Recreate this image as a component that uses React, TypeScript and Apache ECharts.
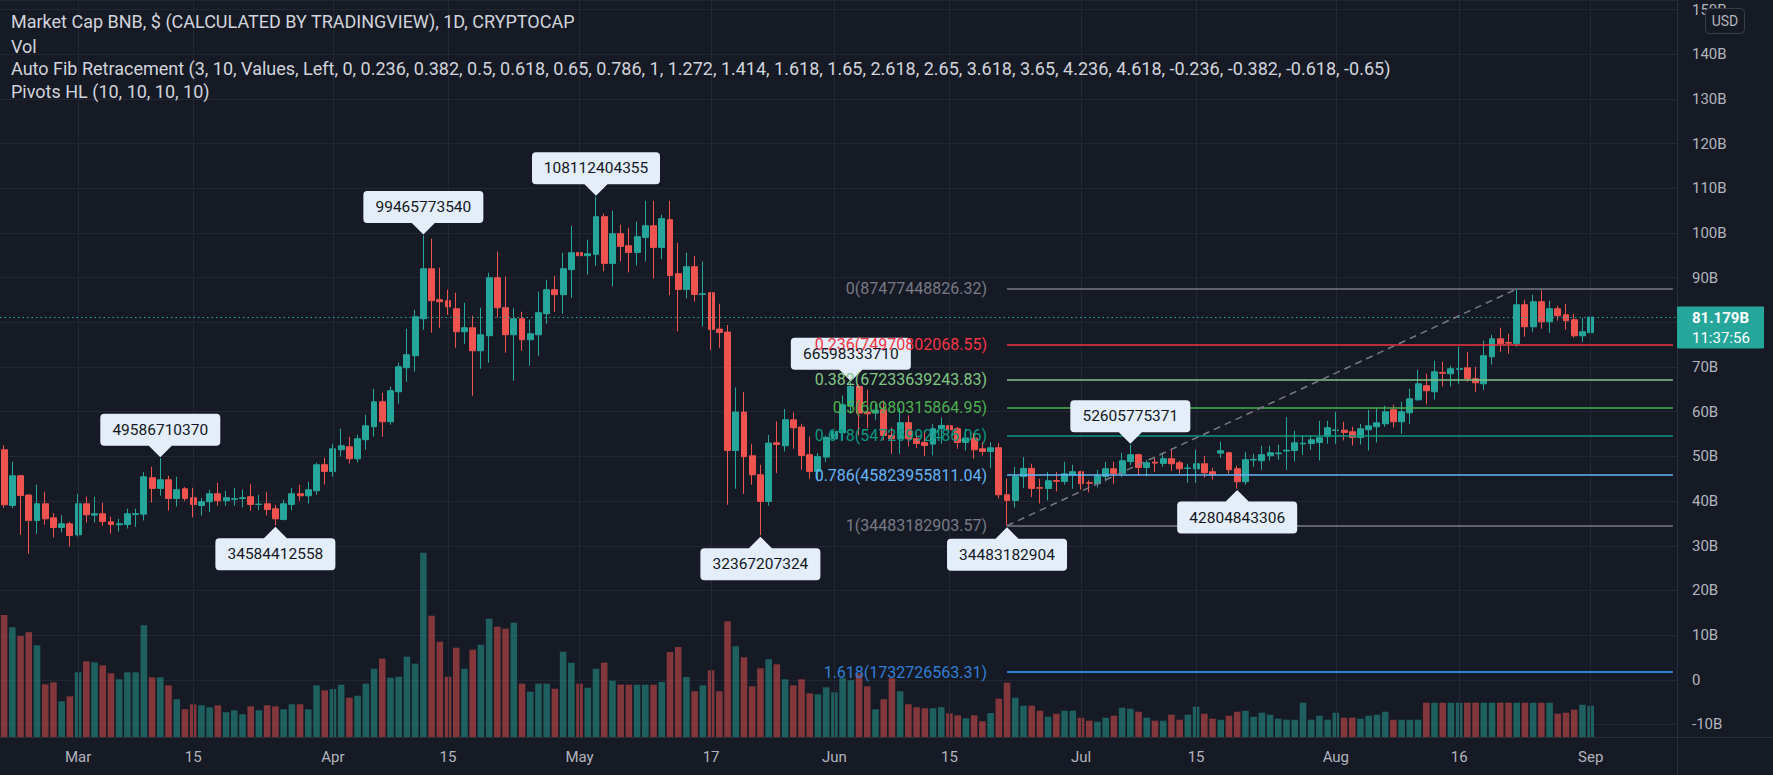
import React, { useEffect, useRef } from "react";
import * as echarts from "echarts";

const FONT = "Roboto, 'Noto Sans', sans-serif";
const BG = "#161a25";
const GRID = "#232733";
const TEXT = "#b2b5be";
const UP = "#26a69a";
const DOWN = "#ef5350";

// Daily categories: Feb 20 2021 .. Sep 11 2021 (candles end Sep 1, empty space after)
const FIRST_DAY = Date.UTC(2021, 1, 20);
const CATEGORY_DAYS = 204;
const categories: string[] = Array.from({ length: CATEGORY_DAYS }, (_, i) =>
  new Date(FIRST_DAY + i * 86400000).toISOString().slice(0, 10)
);

// OHLC in billions USD, Feb 20 .. Sep 1
const open = [
  51.49,
  39.02, 45.67, 41.34, 35.67, 39.4, 36.26, 34.1, 34.92,
  32.46, 39.4, 36.86, 37.16, 35.37, 34.7, 34.77, 37.0, 37.08, 45.22,
  42.83, 44.77, 40.59, 42.75, 40.74, 39.02, 39.85, 41.64, 40.07, 40.4,
  40.6, 40.97, 39.25, 39.4, 38.28, 35.89, 39.25, 41.64, 41.19, 42.31, 48.13,
  46.64, 51.49, 52.16, 49.47, 53.73, 56.64, 62.23, 57.76, 64.47, 69.85,
  72.53, 80.82, 92.01, 85.07, 84.85, 83.05, 77.9, 78.8, 73.65, 77.01,
  89.99, 83.28, 77.23, 80.82, 76.11, 77.23, 81.94, 87.31, 86.19, 91.79,
  95.59, 94.92, 95.22, 103.65, 93.2, 99.84, 97.16, 95.66, 99.02, 101.63,
  96.78, 102.98, 90.89, 87.38, 92.46, 86.26, 86.63, 78.5, 77.83, 51.33,
  59.92, 50.14, 45.89, 39.92, 53.05, 52.38, 58.2, 56.56, 50.37, 46.64, 49.84,
  53.95, 55.29, 61.41, 65.66, 59.92, 59.69, 60.44, 54.69, 53.95, 57.53,
  53.95, 53.13, 52.75, 56.19, 56.86, 56.19, 53.13, 54.1, 51.71, 51.11,
  51.94, 41.42, 40.15, 45.52, 47.31, 43.0, 42.83, 44.6, 44.4, 45.89,
  46.57, 44.1, 43.88, 45.52, 47.23, 46.12, 48.88, 50.37, 47.53, 48.7,
  48.43, 49.48, 48.58, 47.3, 47.23, 48.36, 46.57, 50.74, 50.82, 47.23,
  44.33, 49.2, 49.03, 50.15, 50.6, 51.2, 51.33, 52.8, 52.9, 53.12, 54.47,
  55.8, 55.88, 55.52, 54.24, 55.96, 56.63, 57.3, 60.44, 57.75, 59.77,
  62.68, 65.81, 64.47, 68.8, 68.5, 69.5, 69.84, 67.38, 66.26, 72.3,
  76.33, 75.5, 75.21, 83.94, 79.02, 84.62, 80.14, 83.05, 81.71, 80.59, 77.0,
  77.68,
];
const close = [
  39.17,
  45.67, 41.26, 35.67, 39.4, 36.04, 34.1, 34.92, 32.31,
  39.4, 36.93, 37.16, 35.44, 34.77, 34.92, 37.16, 37.16, 45.44, 42.83,
  44.77, 40.59, 42.53, 40.59, 39.25, 39.85, 41.64, 40.07, 40.74, 40.52,
  40.74, 39.25, 39.32, 38.13, 36.04, 39.4, 41.64, 41.19, 42.53, 48.13, 46.64,
  51.71, 52.38, 49.47, 53.95, 56.86, 62.23, 57.76, 64.7, 70.07, 72.76,
  81.26, 92.01, 84.85, 84.62, 83.5, 77.9, 78.8, 73.65, 77.23, 89.99,
  83.28, 77.23, 80.82, 76.11, 77.46, 82.16, 87.31, 86.19, 92.01, 95.59,
  94.92, 95.37, 103.65, 93.2, 99.84, 97.01, 95.66, 99.17, 101.63, 96.78,
  103.2, 90.51, 87.38, 92.46, 86.26, 86.4, 78.42, 77.75, 51.33, 59.92,
  49.92, 45.89, 39.92, 52.98, 52.68, 58.2, 56.41, 50.22, 46.64, 49.99, 54.24,
  55.59, 61.56, 65.66, 59.69, 59.54, 60.37, 54.69, 53.95, 57.53, 53.95,
  52.9, 52.46, 56.19, 56.93, 55.96, 53.13, 54.1, 51.48, 51.11, 51.93,
  41.42, 40.15, 45.52, 47.31, 42.83, 42.9, 44.55, 44.45, 46.12, 46.57,
  43.88, 44.0, 45.67, 47.23, 46.12, 49.03, 50.37, 47.53, 48.58, 48.5,
  49.48, 48.36, 47.23, 47.4, 48.36, 46.34, 45.89, 51.27, 47.01, 44.33,
  49.25, 49.35, 50.37, 50.82, 50.75, 51.4, 53.05, 52.95, 53.72, 54.17, 56.41,
  55.92, 55.36, 54.24, 56.18, 56.85, 57.53, 59.99, 57.75, 59.99, 62.9,
  66.26, 64.69, 68.94, 68.6, 69.62, 69.65, 67.38, 66.48, 72.53, 76.33,
  75.21, 75.35, 83.94, 79.02, 84.62, 80.14, 83.05, 81.48, 80.36, 77.0, 77.9,
  81.179,
];
const low = [
  38.5,
  38.4, 32.46, 28.2, 32.68, 34.7, 31.86, 32.98, 29.85,
  32.08, 35.22, 35.22, 34.47, 32.76, 33.2, 33.87, 34.25, 35.67, 39.7,
  41.19, 37.9, 38.8, 40.0, 36.34, 36.78, 37.53, 38.95, 38.95, 38.95,
  38.57, 37.83, 37.98, 36.78, 34.584, 35.67, 37.9, 40.07, 39.47, 41.41, 43.73,
  45.44, 50.0, 48.43, 48.65, 51.49, 54.4, 54.4, 57.09, 61.79, 66.71,
  68.95, 78.35, 77.68, 78.8, 81.71, 74.32, 75.22, 63.58, 69.62, 70.97,
  81.04, 73.21, 66.93, 73.65, 70.29, 72.53, 79.7, 82.38, 81.94, 85.52,
  92.01, 90.67, 92.68, 91.41, 88.05, 93.65, 91.19, 92.75, 93.65, 89.84,
  94.17, 86.04, 77.98, 85.37, 84.69, 79.1, 73.87, 74.25, 39.17, 42.75,
  41.63, 43.65, 32.367, 38.95, 46.26, 51.11, 51.71, 47.0, 44.99, 44.39, 48.72,
  53.5, 53.57, 59.54, 54.69, 56.34, 58.2, 53.57, 50.59, 50.59, 52.23,
  51.86, 50.14, 50.22, 52.83, 52.83, 51.71, 51.33, 49.47, 50.22, 47.38,
  40.6, 34.483, 38.58, 42.91, 40.89, 39.48, 40.15, 42.16, 43.66, 42.76,
  42.54, 41.94, 43.06, 44.4, 43.88, 45.44, 48.06, 45.89, 45.52, 46.57,
  47.69, 46.79, 46.12, 44.1, 44.1, 45.22, 44.78, 49.7, 46.12, 42.805,
  43.66, 47.69, 47.01, 49.03, 49.25, 47.01, 48.87, 50.37, 51.48, 49.09, 52.82,
  52.82, 53.57, 52.45, 52.68, 51.33, 53.12, 56.63, 56.48, 55.06, 57.3,
  62.45, 61.63, 62.68, 65.66, 65.66, 66.26, 66.71, 64.47, 64.91, 70.51,
  73.42, 72.97, 74.54, 76.78, 77.9, 78.57, 77.68, 80.36, 78.35, 76.56, 75.66,
  76.11,
];
const high = [
  52.5,
  48.8, 45.9, 41.56, 43.65, 42.08, 37.31, 36.86, 35.37,
  41.64, 40.97, 40.97, 39.62, 36.49, 36.04, 38.28, 38.28, 46.49, 47.68,
  49.587, 45.67, 45.44, 43.13, 42.98, 40.74, 42.53, 44.1, 42.31, 42.98,
  42.53, 43.87, 41.41, 42.08, 39.17, 40.3, 42.98, 43.65, 44.32, 48.58, 49.7,
  52.83, 56.19, 54.4, 54.85, 59.32, 65.14, 64.25, 65.59, 70.97, 78.58,
  82.83, 99.466, 98.73, 92.23, 87.31, 86.64, 84.4, 81.49, 83.28, 91.11,
  95.82, 90.22, 83.28, 82.38, 80.59, 86.86, 89.55, 90.45, 95.59, 101.6,
  99.17, 98.5, 108.112, 104.32, 104.99, 101.86, 101.19, 102.53, 107.23, 107.23,
  104.1, 107.23, 97.83, 95.59, 94.8, 93.65, 86.8, 84.17, 79.4, 65.44,
  64.39, 52.75, 48.13, 54.84, 57.83, 60.59, 59.84, 57.31, 54.47, 50.74, 54.69,
  56.71, 63.65, 66.598, 66.11, 64.92, 61.78, 62.53, 56.49, 60.81, 59.17,
  55.59, 55.59, 57.23, 58.72, 59.1, 56.56, 56.19, 55.22, 53.13, 53.13,
  52.98, 45.0, 47.68, 49.85, 48.36, 45.0, 46.49, 46.49, 48.8, 48.13,
  46.79, 44.63, 47.01, 48.8, 48.8, 50.82, 52.606, 50.6, 49.25, 49.7,
  50.82, 51.71, 49.03, 48.36, 51.49, 50.15, 47.46, 53.28, 51.04, 47.91,
  51.04, 50.6, 52.39, 52.39, 52.61, 58.8, 55.74, 54.69, 54.69, 57.97, 57.97,
  59.99, 57.75, 56.63, 57.3, 60.44, 60.96, 61.33, 61.56, 62.23, 65.14,
  69.39, 68.5, 71.41, 71.18, 70.29, 74.54, 73.42, 70.06, 75.88, 77.23,
  78.8, 77.45, 87.477, 85.06, 86.18, 87.2, 84.84, 83.72, 84.17, 81.93, 81.03,
  81.3,
];
// Volume (relative units as drawn in the pane)
const volume = [
  122,
  109.7, 101, 104.7, 91.7, 52.7, 54.7, 35.7, 40.7,
  64.7, 75.7, 74.7, 71.7, 63.7, 57.7, 64.7, 64.7, 111.7, 59.7,
  59.7, 51.7, 37.7, 27.7, 32.7, 31.7, 29.7, 31.7, 24.7, 26.7,
  22.7, 30.7, 26.7, 31.7, 30.7, 27.7, 32.7, 32.7, 27.7, 51.7, 46.7,
  48, 52.3, 39.3, 41.3, 53.3, 68.3, 78.3, 59.3, 60.3, 80.3,
  73.3, 184.3, 121.3, 95.3, 60.3, 89.3, 68.3, 87.3, 92.3, 118.3,
  110.3, 108.3, 114.3, 53.3, 45.3, 53.3, 53.3, 48.3, 85.3, 74.3,
  53.3, 49.3, 68.3, 74.3, 56.3, 52.3, 52.3, 52.3, 52.3, 52.3,
  55, 85, 90, 60, 45.7, 51.7, 66.7, 45.7, 115.7, 90.7,
  79.7, 50.7, 68.7, 77.7, 72.7, 57.7, 51.7, 57.7, 43.7, 42.7, 49.7,
  44.7, 58.7, 56.7, 63.7, 50.7, 27.7, 37.7, 58.7, 45.7, 32.7,
  29.7, 28.7, 28.7, 29.7, 23.7, 21.7, 18.7, 21.7, 15.7, 24,
  38.3, 54.3, 39.3, 31.3, 31.3, 26.3, 20.3, 23.3, 26.3, 26.3,
  19.3, 16.3, 15.3, 19.3, 21.3, 29.3, 28.3, 25.3, 19.3, 16.3,
  16.3, 22.3, 17.3, 22.3, 30.3, 23.3, 18.3, 17.3, 21.3, 25.3,
  26.3, 20.3, 24.3, 22.3, 18.3, 17.3, 17.3, 34.3, 17.3, 21.3, 17.3,
  24.3, 19.3, 19.3, 18.3, 21.3, 22.3, 25.3, 17.3, 17.3, 17.3,
  17.3, 34.3, 34.3, 34.3, 34.3, 34.3, 34.3, 34.3, 34.3, 34.3,
  34.3, 34.3, 34.3, 34.3, 34.3, 34.3, 34.3, 23.3, 24.3, 27.3, 32.3,
  31.3,
];

const tickDates = [
  "2021-03-01", "2021-03-15", "2021-04-01", "2021-04-15", "2021-05-01", "2021-05-17",
  "2021-06-01", "2021-06-15", "2021-07-01", "2021-07-15", "2021-08-01", "2021-08-16", "2021-09-01",
];
const tickLabels = ["Mar", "15", "Apr", "15", "May", "17", "Jun", "15", "Jul", "15", "Aug", "16", "Sep"];

const fibLevels = [0, 0.236, 0.382, 0.5, 0.618, 0.786, 1, 1.618];
const fibValues = [
  87477448826.32, 74970802068.55, 67233639243.83, 60980315864.95,
  54726992486.06, 45823955811.04, 34483182903.57, 1732726563.31,
];
const fibColors = ["#787b86", "#f23645", "#81c784", "#4caf50", "#089981", "#64b5f6", "#787b86", "#2f7fd6"];
const fibStartDate = "2021-06-22";
const fibEndDate = "2021-09-11";
const trendDates = ["2021-06-22", "2021-08-23"];
const trendValues = [34483182903.57, 87477448826.32];

const pivotHighDates = ["2021-03-11", "2021-04-12", "2021-05-03", "2021-06-03", "2021-07-07"];
const pivotHighValues = [49586710370, 99465773540, 108112404355, 66598333710, 52605775371];
const pivotLowDates = ["2021-03-25", "2021-05-23", "2021-06-22", "2021-07-20"];
const pivotLowValues = [34584412558, 32367207324, 34483182904, 42804843306];

const lastPrice = 81.179;
const countdown = "11:37:56";
// axis label hidden behind the last-price tag in the reference
const hiddenAxisValues = [80];

const legendLines = [
  "Market Cap BNB, $ (CALCULATED BY TRADINGVIEW), 1D, CRYPTOCAP",
  "Vol",
  "Auto Fib Retracement (3, 10, Values, Left, 0, 0.236, 0.382, 0.5, 0.618, 0.65, 0.786, 1, 1.272, 1.414, 1.618, 1.65, 2.618, 2.65, 3.618, 3.65, 4.236, 4.618, -0.236, -0.382, -0.618, -0.65)",
  "Pivots HL (10, 10, 10, 10)",
];

const highPath = (w: number) =>
  `path://M4,0 H${w - 4} Q${w},0 ${w},4 V28 Q${w},32 ${w - 4},32 H${w / 2 + 11.5} L${w / 2},43.5 L${w / 2 - 11.5},32 H4 Q0,32 0,28 V4 Q0,0 4,0 Z`;
const lowPath = (w: number) =>
  `path://M${w / 2},0 L${w / 2 + 11.5},11.5 H${w - 4} Q${w},11.5 ${w},15.5 V39.5 Q${w},43.5 ${w - 4},43.5 H4 Q0,43.5 0,39.5 V15.5 Q0,11.5 4,11.5 H${w / 2 - 11.5} Z`;

const yFmt = (v: number) => {
  const r = Math.round(v);
  if (Math.abs(v - r) > 1e-6 || r % 10 !== 0) return "";
  if (hiddenAxisValues.indexOf(r) >= 0) return "";
  return r === 0 ? "0" : `${r}B`;
};

function buildOption() {
  const candleData = open.map((o, i) => [o, close[i], low[i], high[i]]);
  const volData = volume.map((v, i) => ({
    value: v,
    itemStyle: { color: close[i] >= open[i] ? "rgba(38,166,154,0.5)" : "rgba(239,83,80,0.5)" },
  }));

  const pivots: any[] = [];
  pivotHighDates.forEach((d, i) => {
    const name = String(pivotHighValues[i]);
    const w = name.length * 8 + 32;
    pivots.push({
      name,
      coord: [d, pivotHighValues[i] / 1e9],
      symbol: highPath(w),
      symbolSize: [w, 43.5],
      symbolOffset: [0, -22.75],
      label: { position: [w / 2, 16], align: "center", verticalAlign: "middle" },
    });
  });
  pivotLowDates.forEach((d, i) => {
    const name = String(pivotLowValues[i]);
    const w = name.length * 8 + 32;
    pivots.push({
      name,
      coord: [d, pivotLowValues[i] / 1e9],
      symbol: lowPath(w),
      symbolSize: [w, 43.5],
      symbolOffset: [0, 23.2],
      label: { position: [w / 2, 27.5], align: "center", verticalAlign: "middle" },
    });
  });

  const fibLines: any[] = fibLevels.map((lv, i) => [
    {
      coord: [fibStartDate, fibValues[i] / 1e9],
      lineStyle: { color: fibColors[i], width: lv === 1.618 ? 2 : 1.5, type: "solid" },
      label: {
        show: true,
        position: "start",
        distance: 20,
        formatter: `${lv}(${fibValues[i].toFixed(2)})`,
        color: fibColors[i],
        fontSize: 16,
        fontFamily: FONT,
        padding: [0, 0, 33, 0],
      },
    },
    { coord: [fibEndDate, fibValues[i] / 1e9] },
  ]);
  fibLines.push([
    {
      coord: [trendDates[0], trendValues[0] / 1e9],
      lineStyle: { color: "#787b86", width: 1.5, type: [7, 5] },
      label: { show: false },
    },
    { coord: [trendDates[1], trendValues[1] / 1e9] },
  ]);

  return {
    animation: false,
    backgroundColor: BG,
    textStyle: { fontFamily: FONT },
    grid: { left: -6.4, right: 96, top: 0, bottom: 38, containLabel: false },
    xAxis: {
      type: "category",
      data: categories,
      boundaryGap: true,
      axisLine: { show: false },
      axisTick: { show: false },
      splitLine: { show: false },
      axisLabel: {
        color: TEXT,
        fontSize: 15,
        fontFamily: FONT,
        margin: 12,
        interval: (_i: number, v: string) => tickDates.indexOf(v) >= 0,
        formatter: (v: string) => tickLabels[tickDates.indexOf(v)] ?? "",
      },
    },
    yAxis: [
      {
        type: "value",
        position: "right",
        min: -12.8,
        max: 152.15,
        splitNumber: 16,
        minInterval: 10,
        maxInterval: 10,
        axisLine: { show: false },
        axisTick: { show: false },
        axisLabel: {
          color: TEXT,
          fontSize: 15,
          fontFamily: FONT,
          margin: 15,
          formatter: yFmt,
          showMinLabel: false,
          showMaxLabel: false,
        },
        splitLine: { lineStyle: { color: GRID, width: 1 } },
      },
      { type: "value", min: 0, max: 737, show: false, splitLine: { show: false } },
    ],
    series: [
      {
        name: "timegrid",
        type: "line",
        data: [],
        z: 0,
        silent: true,
        markLine: {
          symbol: "none",
          silent: true,
          label: { show: false },
          lineStyle: { color: GRID, width: 1, type: "solid" },
          data: tickDates.map((d) => ({ xAxis: d })),
        },
      },
      {
        name: "Vol",
        type: "bar",
        yAxisIndex: 1,
        data: volData,
        barWidth: "80%",
        z: 1,
        silent: true,
      },
      {
        name: "BNB",
        type: "candlestick",
        data: candleData,
        barWidth: "78%",
        z: 2,
        silent: true,
        itemStyle: {
          color: UP,
          color0: DOWN,
          borderColor: UP,
          borderColor0: DOWN,
          borderWidth: 1,
        },
        markLine: {
          symbol: "none",
          silent: true,
          label: { show: false },
          lineStyle: { color: UP, width: 1, type: [1.5, 3] },
          data: [{ yAxis: lastPrice }],
        },
      },
      {
        name: "fib",
        type: "line",
        data: [],
        z: 3,
        silent: true,
        markLine: { symbol: "none", silent: true, label: { show: false }, data: fibLines },
      },
      {
        name: "pivots",
        type: "scatter",
        data: [],
        z: 4,
        silent: true,
        markPoint: {
          silent: true,
          symbolKeepAspect: false,
          itemStyle: { color: "#e3eefa" },
          label: {
            show: true,
            formatter: "{b}",
            color: "#131722",
            fontSize: 15.5,
            fontFamily: FONT,
          },
          data: pivots,
        },
      },
    ],
  };
}

export default function App() {
  const ref = useRef<HTMLDivElement>(null);
  useEffect(() => {
    const chart = echarts.init(ref.current!, null, { renderer: "svg" });
    chart.setOption(buildOption() as any);
    const py = chart.convertToPixel({ yAxisIndex: 0 }, lastPrice) as number;
    const graphics: any[] = [
      { type: "line", z: 100, shape: { x1: 1677.5, y1: 0, x2: 1677.5, y2: 775 }, style: { stroke: "#2a2e39", lineWidth: 1 } },
      { type: "line", z: 100, shape: { x1: 0, y1: 737.5, x2: 1773, y2: 737.5 }, style: { stroke: "#2a2e39", lineWidth: 1 } },
      ...legendLines.map((t, i) => ({
        type: "text",
        z: 100,
        x: 11,
        y: [21.5, 46, 68.6, 91.2][i],
        style: {
          text: t,
          fill: "#d1d4dc",
          fontSize: 18,
          fontFamily: FONT,
          verticalAlign: "middle",
          textVerticalAlign: "middle",
        },
      })),
      {
        type: "rect",
        z: 100,
        shape: { x: 1705.5, y: 8.5, width: 39, height: 25, r: 4 },
        style: { fill: BG, stroke: "#3a3e4a", lineWidth: 1 },
      },
      {
        type: "text",
        z: 101,
        x: 1725,
        y: 21,
        style: {
          text: "USD",
          fill: TEXT,
          fontSize: 14,
          fontFamily: FONT,
          align: "center",
          textAlign: "center",
          verticalAlign: "middle",
          textVerticalAlign: "middle",
        },
      },
      {
        type: "rect",
        z: 100,
        shape: { x: 1677, y: py - 10.5, width: 87, height: 42, r: 1 },
        style: { fill: UP },
      },
      {
        type: "text",
        z: 101,
        x: 1692,
        y: py + 1.3,
        style: {
          text: `${lastPrice}B`,
          fill: "#ffffff",
          fontSize: 15,
          fontWeight: "bold",
          fontFamily: FONT,
          verticalAlign: "middle",
          textVerticalAlign: "middle",
        },
      },
      {
        type: "text",
        z: 101,
        x: 1692,
        y: py + 20.5,
        style: {
          text: countdown,
          fill: "#ffffff",
          fontSize: 15,
          fontFamily: FONT,
          verticalAlign: "middle",
          textVerticalAlign: "middle",
        },
      },
    ];
    chart.setOption({ graphic: graphics });
    return () => chart.dispose();
  }, []);
  return (
    <div
      ref={ref}
      style={{ position: "absolute", left: 0, top: 0, width: 1773, height: 775 }}
    />
  );
}
